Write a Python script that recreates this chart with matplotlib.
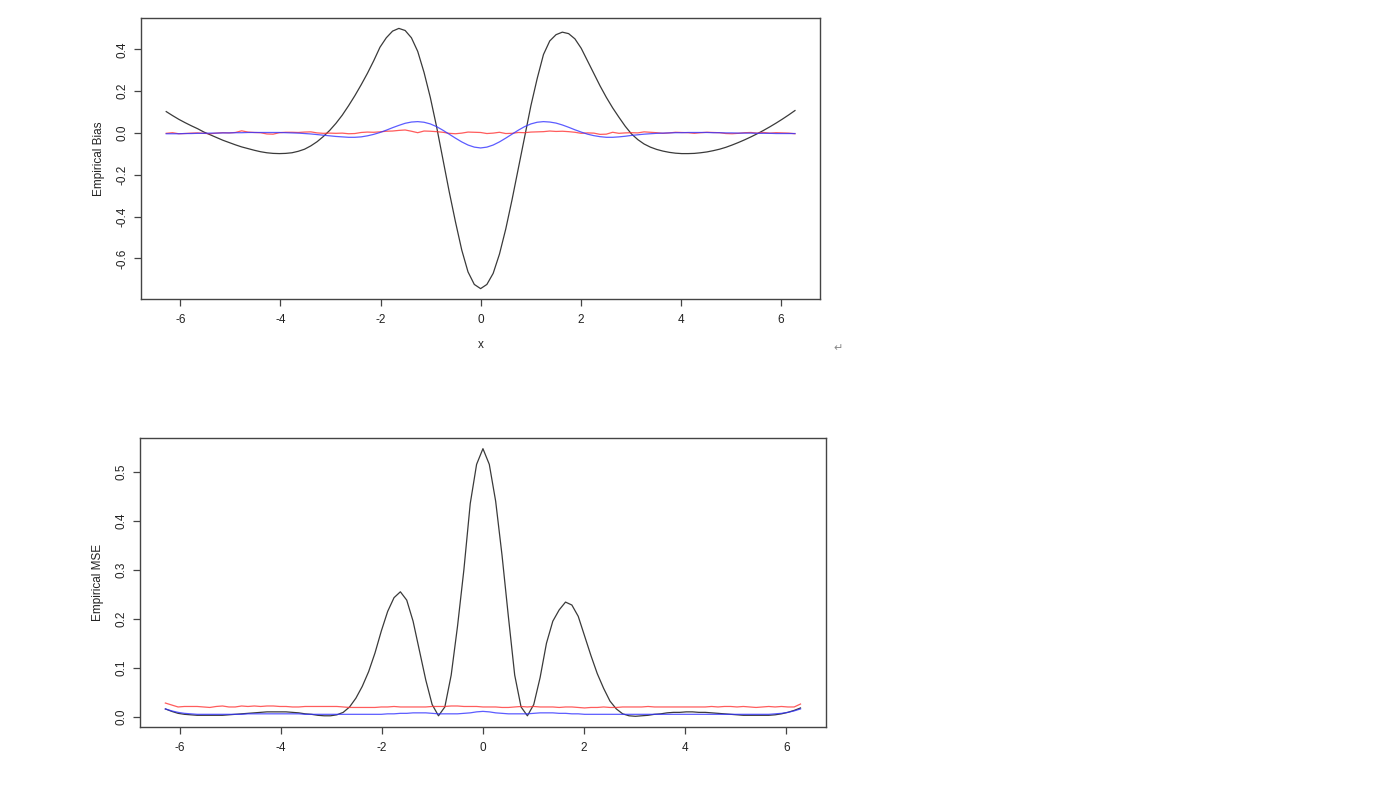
import numpy as np
import matplotlib
matplotlib.use('Agg')
import matplotlib.pyplot as plt

plt.rcParams['font.family'] = ['Liberation Sans', 'DejaVu Sans']

# evaluation grid, 101 points on [-2pi, 2pi]
x = np.linspace(-2 * np.pi, 2 * np.pi, 101)

# empirical bias
bias_black = [0.102, 0.083, 0.065, 0.049, 0.034, 0.020, 0.004, -0.009, -0.022, -0.035,
              -0.046, -0.057, -0.067, -0.075, -0.083, -0.090, -0.095, -0.098, -0.099, -0.098,
              -0.095, -0.088, -0.078, -0.062, -0.042, -0.017, 0.012, 0.046, 0.085, 0.130,
              0.178, 0.230, 0.285, 0.345, 0.410, 0.455, 0.487, 0.500, 0.490, 0.455,
              0.390, 0.290, 0.170, 0.030, -0.125, -0.280, -0.425, -0.560, -0.665, -0.725,
              -0.745,
              -0.725, -0.672, -0.580, -0.460, -0.320, -0.170, -0.020, 0.130, 0.260, 0.375,
              0.440, 0.470, 0.482, 0.475, 0.450, 0.405, 0.345, 0.285, 0.225, 0.170,
              0.120, 0.075, 0.032, -0.005, -0.032, -0.053, -0.068, -0.079, -0.087, -0.093,
              -0.097, -0.099, -0.099, -0.098, -0.095, -0.091, -0.085, -0.078, -0.069, -0.058,
              -0.046, -0.033, -0.019, -0.004, 0.012, 0.029, 0.047, 0.066, 0.086, 0.107]

bias_red = [-0.002, 0.001, -0.004, -0.003, -0.001, 0.000, -0.002, -0.004, -0.001, 0.001,
            0.000, 0.002, 0.010, 0.004, 0.002, 0.001, -0.005, -0.006, 0.001, 0.003,
            0.003, 0.002, 0.004, 0.005, 0.000, -0.002, -0.001, -0.002, -0.001, -0.004,
            -0.003, 0.002, 0.004, 0.003, 0.005, 0.008, 0.009, 0.012, 0.014, 0.008,
            0.001, 0.009, 0.008, 0.006, 0.003, -0.002, -0.004, -0.001, 0.004, 0.003,
            0.002,
            -0.003, -0.001, 0.003, -0.003, -0.002, 0.002, 0.001, 0.004, 0.005, 0.006,
            0.009, 0.007, 0.008, 0.006, 0.003, -0.002, 0.000, -0.001, -0.007, -0.006,
            0.003, -0.002, 0.000, 0.001, 0.000, 0.005, 0.003, 0.001, -0.002, 0.000,
            0.003, 0.002, 0.001, -0.002, 0.001, 0.003, 0.002, 0.001, -0.003, -0.004,
            -0.002, 0.001, 0.002, -0.001, 0.002, -0.001, 0.001, 0.000, -0.001, -0.004]

bias_blue = [-0.004, -0.004, -0.004, -0.003, -0.003, -0.002, -0.002, -0.001, -0.001, 0.000,
             0.000, 0.001, 0.001, 0.002, 0.002, 0.002, 0.002, 0.002, 0.002, 0.001,
             0.000, -0.001, -0.003, -0.005, -0.008, -0.011, -0.014, -0.017, -0.019, -0.021,
             -0.021, -0.019, -0.014, -0.007, 0.002, 0.013, 0.025, 0.036, 0.046, 0.052,
             0.054, 0.051, 0.043, 0.030, 0.013, -0.006, -0.025, -0.043, -0.058, -0.068,
             -0.072,
             -0.068, -0.058, -0.043, -0.025, -0.006, 0.013, 0.030, 0.043, 0.051, 0.054,
             0.052, 0.047, 0.038, 0.027, 0.015, 0.004, -0.006, -0.013, -0.018, -0.021,
             -0.021, -0.019, -0.016, -0.012, -0.009, -0.006, -0.004, -0.002, -0.001, 0.000,
             0.001, 0.001, 0.002, 0.002, 0.002, 0.002, 0.001, 0.001, 0.000, 0.000,
             -0.001, -0.001, -0.001, -0.002, -0.002, -0.002, -0.003, -0.003, -0.003, -0.003]

# empirical MSE
mse_black = [0.016, 0.011, 0.007, 0.005, 0.004, 0.003, 0.003, 0.003, 0.003, 0.003,
             0.004, 0.005, 0.006, 0.007, 0.008, 0.009, 0.010, 0.010, 0.010, 0.010,
             0.009, 0.008, 0.006, 0.005, 0.003, 0.002, 0.002, 0.004, 0.009, 0.020,
             0.038, 0.062, 0.092, 0.130, 0.175, 0.215, 0.243, 0.255, 0.238, 0.195,
             0.135, 0.075, 0.025, 0.002, 0.020, 0.085, 0.185, 0.300, 0.435, 0.515,
             0.547,
             0.515, 0.440, 0.330, 0.205, 0.085, 0.020, 0.002, 0.025, 0.080, 0.150,
             0.195, 0.218, 0.234, 0.228, 0.205, 0.165, 0.125, 0.088, 0.058, 0.032,
             0.016, 0.006, 0.002, 0.001, 0.002, 0.003, 0.005, 0.006, 0.008, 0.009,
             0.009, 0.010, 0.010, 0.009, 0.009, 0.008, 0.007, 0.006, 0.005, 0.004,
             0.003, 0.003, 0.003, 0.003, 0.003, 0.004, 0.006, 0.009, 0.013, 0.018]

mse_red = [0.028, 0.024, 0.020, 0.021, 0.021, 0.021, 0.020, 0.019, 0.021, 0.022,
           0.020, 0.020, 0.022, 0.021, 0.022, 0.021, 0.022, 0.022, 0.021, 0.021,
           0.020, 0.020, 0.021, 0.021, 0.021, 0.021, 0.021, 0.021, 0.020, 0.019,
           0.019, 0.019, 0.019, 0.019, 0.020, 0.020, 0.021, 0.020, 0.020, 0.020,
           0.020, 0.020, 0.021, 0.021, 0.021, 0.022, 0.022, 0.021, 0.021, 0.021,
           0.020,
           0.020, 0.020, 0.019, 0.019, 0.020, 0.021, 0.020, 0.021, 0.020, 0.020,
           0.020, 0.019, 0.020, 0.020, 0.019, 0.018, 0.019, 0.019, 0.020, 0.019,
           0.019, 0.020, 0.020, 0.020, 0.020, 0.021, 0.020, 0.020, 0.020, 0.020,
           0.020, 0.020, 0.020, 0.020, 0.020, 0.021, 0.020, 0.021, 0.021, 0.020,
           0.021, 0.020, 0.019, 0.020, 0.021, 0.020, 0.021, 0.020, 0.020, 0.026]

mse_blue = [0.016, 0.012, 0.009, 0.007, 0.006, 0.005, 0.005, 0.005, 0.005, 0.005,
            0.005, 0.005, 0.005, 0.006, 0.006, 0.006, 0.006, 0.006, 0.006, 0.006,
            0.006, 0.006, 0.005, 0.005, 0.005, 0.005, 0.005, 0.005, 0.005, 0.005,
            0.005, 0.005, 0.005, 0.005, 0.005, 0.006, 0.006, 0.007, 0.007, 0.008,
            0.008, 0.008, 0.007, 0.006, 0.006, 0.006, 0.006, 0.007, 0.008, 0.010,
            0.011,
            0.010, 0.008, 0.007, 0.006, 0.006, 0.006, 0.006, 0.007, 0.008, 0.008,
            0.008, 0.007, 0.007, 0.006, 0.006, 0.005, 0.005, 0.005, 0.005, 0.005,
            0.005, 0.005, 0.005, 0.005, 0.005, 0.005, 0.005, 0.005, 0.005, 0.005,
            0.005, 0.005, 0.005, 0.005, 0.005, 0.005, 0.005, 0.005, 0.005, 0.005,
            0.005, 0.005, 0.005, 0.005, 0.005, 0.006, 0.007, 0.009, 0.012, 0.016]

xticks = [-6, -4, -2, 0, 2, 4, 6]

fig = plt.figure(figsize=(13.83, 7.89), dpi=100)
ax1 = fig.add_axes([0.1020, 0.6210, 0.4910, 0.3562])
ax2 = fig.add_axes([0.1012, 0.0786, 0.4960, 0.3663])

for ax in (ax1, ax2):
    for s in ax.spines.values():
        s.set_color('#444444')
        s.set_linewidth(1.0)
    ax.tick_params(direction='out', length=5, width=0.9, color='#444444',
                   labelsize=8.5, labelcolor='#222222')
    ax.tick_params(axis='x', pad=6)
    ax.tick_params(axis='y', pad=4)
    ax.margins(x=0.04, y=0.04)
    ax.set_xticks(xticks)
    ax.set_xticklabels([str(t) for t in xticks])

# top: bias
ax1.plot(x, bias_black, color='#3a3a3a', lw=0.9)
ax1.plot(x, bias_red, color='#ff3333', lw=0.9, alpha=0.8)
ax1.plot(x, bias_blue, color='#3333ff', lw=0.9, alpha=0.8)
ax1.set_yticks([-0.6, -0.4, -0.2, 0.0, 0.2, 0.4])
ax1.set_yticklabels(['-0.6', '-0.4', '-0.2', '0.0', '0.2', '0.4'], rotation=90, va='center')
ax1.set_ylabel('Empirical Bias', fontsize=8.5, color='#222222', labelpad=8)
ax1.set_xlabel('x', fontsize=8.5, color='#222222', labelpad=9)

# bottom: MSE
ax2.plot(x, mse_black, color='#3a3a3a', lw=0.9)
ax2.plot(x, mse_red, color='#ff3333', lw=0.9, alpha=0.8)
ax2.plot(x, mse_blue, color='#3333ff', lw=0.9, alpha=0.8)
ax2.set_yticks([0.0, 0.1, 0.2, 0.3, 0.4, 0.5])
ax2.set_yticklabels(['0.0', '0.1', '0.2', '0.3', '0.4', '0.5'], rotation=90, va='center')
ax2.set_ylabel('Empirical MSE', fontsize=8.5, color='#222222', labelpad=8)

fig.text(838 / 1383, 1 - 348 / 789, '\u21b5', color='#888888', fontsize=8,
         ha='center', va='center', family=['DejaVu Sans'])

fig.savefig('out.png', dpi=100)
